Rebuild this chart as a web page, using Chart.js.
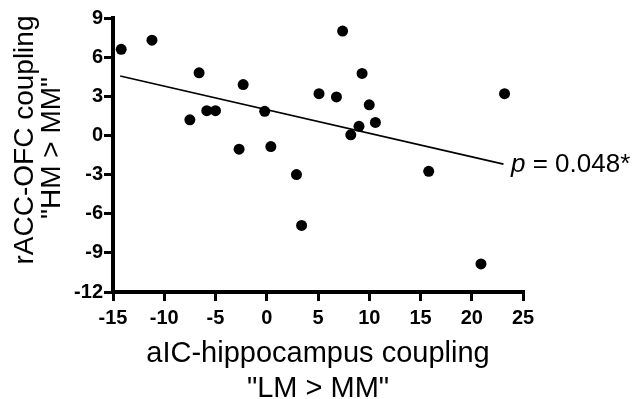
<!DOCTYPE html>
<html>
<head>
<meta charset="utf-8">
<script src="https://cdn.jsdelivr.net/npm/chart.js@4"></script>
<style>
  html, body { margin: 0; padding: 0; background: #fff; }
  canvas { display: block; }
</style>
</head>
<body>
<canvas id="scatterChart" width="632" height="399"></canvas>
<script>
// Data
const aicCoupling = [-14.2, -11.2, -7.5, -6.6, -5.85, -5.0, -2.7, -2.3, -0.2, 0.4, 2.9, 3.4, 5.1, 6.8, 7.4, 8.2, 9.0, 9.3, 10.0, 10.6, 15.8, 20.9, 23.2];
const raccCoupling = [6.6, 7.3, 1.2, 4.8, 1.9, 1.9, -1.05, 3.9, 1.85, -0.85, -3.0, -6.9, 3.2, 2.95, 8.0, 0.05, 0.7, 4.75, 2.35, 1.0, -2.75, -9.85, 3.2];

// Regression line end points
const fitX = [-14.3, 23.1];
const fitY = [4.56, -2.2];

const xTicks = [-15, -10, -5, 0, 5, 10, 15, 20, 25];
const yTicks = [-12, -9, -6, -3, 0, 3, 6, 9];

const xTitle = ['aIC-hippocampus coupling', '"LM > MM"'];
const yTitle = ['rACC-OFC coupling', '"HM > MM"'];
const pLabel = ['p', ' = 0.048*'];

const FONT = '"Liberation Sans", Arial, Helvetica, sans-serif';

// Axis titles and p-value text
const labelsPlugin = {
    id: 'labels',
    afterDraw(chart) {
        const ctx = chart.ctx;
        const area = chart.chartArea;
        const cx = (area.left + area.right) / 2;
        ctx.save();
        ctx.fillStyle = '#000';
        ctx.textBaseline = 'alphabetic';

        // x title
        ctx.font = '29px ' + FONT;
        ctx.textAlign = 'center';
        ctx.fillText(xTitle[0], cx, 362);
        ctx.fillText(xTitle[1], cx, 397);

        // y title (rotated)
        ctx.font = '28px ' + FONT;
        ctx.save();
        ctx.translate(33, 140);
        ctx.rotate(-Math.PI / 2);
        ctx.fillText(yTitle[0], 0, 0);
        ctx.restore();
        ctx.save();
        ctx.translate(60, 148);
        ctx.rotate(-Math.PI / 2);
        ctx.fillText(yTitle[1], 0, 0);
        ctx.restore();

        // p value
        const x0 = area.right - 12;
        const base = chart.scales.y.getPixelForValue(fitY[1]) + 8;
        ctx.textAlign = 'left';
        ctx.font = 'italic 26px ' + FONT;
        ctx.fillText(pLabel[0], x0, base);
        const w = ctx.measureText(pLabel[0]).width;
        ctx.font = '26px ' + FONT;
        ctx.fillText(pLabel[1], x0 + w, base);
        ctx.restore();
    }
};

const axisStyle = {
    grid: {
        display: true,
        drawOnChartArea: false,
        drawTicks: true,
        tickLength: 9,
        color: '#000',
        lineWidth: 3
    },
    border: {
        display: true,
        color: '#000',
        width: 4
    }
};

new Chart(document.getElementById('scatterChart'), {
    type: 'scatter',
    data: {
        datasets: [{
            label: 'subjects',
            data: aicCoupling.map((x, i) => ({ x: x, y: raccCoupling[i] })),
            backgroundColor: '#000',
            borderColor: '#000',
            pointRadius: 5.5,
            pointBorderWidth: 0
        }, {
            type: 'line',
            label: 'fit',
            data: fitX.map((x, i) => ({ x: x, y: fitY[i] })),
            borderColor: '#000',
            borderWidth: 1.6,
            pointRadius: 0,
            fill: false
        }]
    },
    options: {
        responsive: false,
        animation: false,
        layout: {
            padding: { top: 18, right: 109, left: 0, bottom: 0 }
        },
        plugins: {
            legend: { display: false },
            tooltip: { enabled: false }
        },
        scales: {
            x: {
                type: 'linear',
                min: -15,
                max: 25,
                afterBuildTicks: (scale) => {
                    scale.ticks = xTicks.map(v => ({ value: v }));
                },
                afterFit: (scale) => { scale.height = 107; },
                ticks: {
                    color: '#000',
                    padding: 5,
                    font: { family: FONT, size: 20, weight: 'bold' }
                },
                ...axisStyle
            },
            y: {
                type: 'linear',
                min: -12,
                max: 9,
                afterBuildTicks: (scale) => {
                    scale.ticks = yTicks.map(v => ({ value: v }));
                },
                afterFit: (scale) => { scale.width = 113; },
                ticks: {
                    color: '#000',
                    padding: 1,
                    font: { family: FONT, size: 20, weight: 'bold' }
                },
                ...axisStyle
            }
        }
    },
    plugins: [labelsPlugin]
});
</script>
</body>
</html>
